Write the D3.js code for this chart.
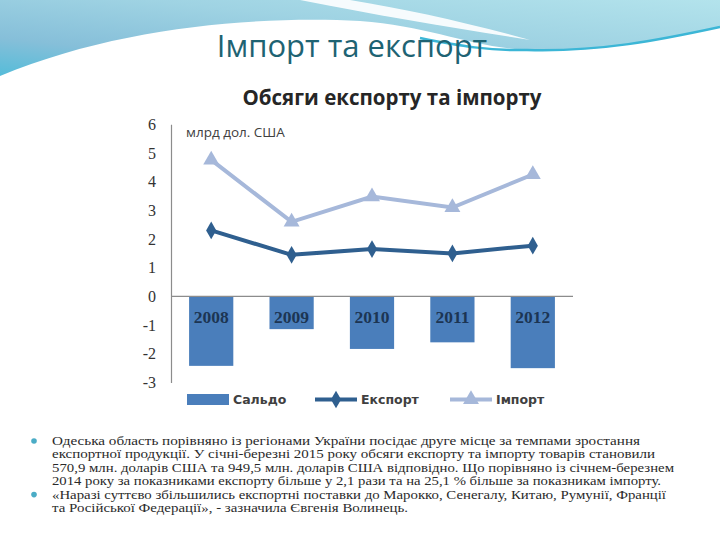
<!DOCTYPE html>
<html><head><meta charset="utf-8">
<script src="https://cdn.jsdelivr.net/npm/d3@7"></script>
<style>html,body{margin:0;padding:0;background:#fff;}svg{display:block;}</style>
</head><body>
<script>
const years = ["2008","2009","2010","2011","2012"];
const saldo = [-2.42, -1.14, -1.83, -1.6, -2.5];
const exportVals = [2.3, 1.45, 1.65, 1.5, 1.77];
const importVals = [4.76, 2.6, 3.48, 3.1, 4.25];
const yTicks = [-3,-2,-1,0,1,2,3,4,5,6];
const legendLabels = ["Сальдо","Експорт","Імпорт"];
const slideTitle = "Імпорт та експорт";
const chartTitle = "Обсяги експорту та імпорту";
const unitLabel = "млрд дол. США";
const bullets = [
 ["Одеська область порівняно із регіонами України посідає друге місце за темпами зростання",
  "експортної продукції. У січні-березні 2015 року обсяги експорту та імпорту товарів становили",
  "570,9 млн. доларів США та 949,5 млн. доларів США відповідно. Що порівняно із січнем-березнем",
  "2014 року за показниками експорту більше у 2,1 рази та на 25,1 % більше за показникам імпорту."],
 ["«Наразі суттєво збільшились експортні поставки до Марокко, Сенегалу, Китаю, Румунії, Франції",
  "та Російської Федерації», - зазначила Євгенія Волинець."]
];
const lineWidths = [[588,603,622,609],[614,356]];

const W=720,H=540;
const svg=d3.select("body").append("svg").attr("width",W).attr("height",H);
const defs=svg.append("defs");
const g1=defs.append("linearGradient").attr("id","band").attr("x1","0").attr("y1","1").attr("x2","1").attr("y2","0");
g1.append("stop").attr("offset","0").attr("stop-color","#55bcd9");
g1.append("stop").attr("offset","0.25").attr("stop-color","#86bfd9");
g1.append("stop").attr("offset","0.6").attr("stop-color","#9fd3e3");
g1.append("stop").attr("offset","1").attr("stop-color","#b3e3ec");

// top decorative band
svg.append("path").attr("d","M0,0 L720,0 L720,27 C660,40 600,53 527,50 C470,47 430,26 360,21 C260,16 120,26 0,76 Z").attr("fill","url(#band)");
svg.append("path").attr("d","M420,38 C460,46 490,51 527,50 C600,52 660,40 720,27").attr("fill","none").attr("stroke","#3cb6d6").attr("stroke-width",2.5);
svg.append("path").attr("d","M300,0 L350,0 C405,9 465,22 530,40 C455,28 380,16 300,0 Z").attr("fill","#ffffff").attr("opacity",0.9);

// slide title
svg.append("text").attr("x",352).attr("y",57).attr("text-anchor","middle")
 .attr("font-family","Open Sans").attr("font-size",31).attr("fill","#1e6373").text(slideTitle);

// chart title
svg.append("text").attr("x",392).attr("y",105).attr("text-anchor","middle")
 .attr("font-family","Open Sans").attr("font-weight","bold").attr("font-size",20.5).attr("fill","#262626").text(chartTitle);

const x=d3.scaleBand().domain(years).range([171,573]).paddingInner(0.45).paddingOuter(0.225);
const y=d3.scaleLinear().domain([-3,6]).range([382.5,124.3]);

// y axis
const yAxis=d3.axisLeft(y).tickValues(yTicks).tickSize(0).tickPadding(15).tickFormat(d=>d<0?"-"+Math.abs(d):String(d));
const ga=svg.append("g").attr("transform","translate(171,0)").call(yAxis);
ga.select(".domain").attr("stroke","#8c8c8c").attr("stroke-width",1.2);
ga.selectAll("text").attr("font-family","Liberation Serif").attr("font-size",16).attr("fill","#333");

// bars
svg.append("g").selectAll("rect").data(years).join("rect")
 .attr("x",d=>x(d)).attr("width",x.bandwidth())
 .attr("y",(d,i)=>y(Math.max(0,saldo[i]))).attr("height",(d,i)=>Math.abs(y(saldo[i])-y(0)))
 .attr("fill","#4a7ebb");

// zero line
svg.append("line").attr("x1",171).attr("x2",573).attr("y1",y(0)).attr("y2",y(0)).attr("stroke","#8c8c8c").attr("stroke-width",1.2);

// category labels inside bars
svg.append("g").selectAll("text").data(years).join("text")
 .attr("x",d=>x(d)+x.bandwidth()/2).attr("y",y(0)+27).attr("text-anchor","middle")
 .attr("font-family","Liberation Serif").attr("font-weight","bold").attr("font-size",17.5).attr("fill","#1c3553").text(d=>d);

// unit label
svg.append("text").attr("x",186).attr("y",137).attr("font-family","Open Sans").attr("font-size",13.5).attr("fill","#404040").text(unitLabel);

const cx=d=>x(d)+x.bandwidth()/2;
const line=d3.line().x(d=>cx(d[0])).y(d=>y(d[1]));
const impC="#a6b8da", expC="#2f5f8f";
svg.append("path").datum(years.map((d,i)=>[d,importVals[i]])).attr("d",line).attr("fill","none").attr("stroke",impC).attr("stroke-width",4);
svg.append("path").datum(years.map((d,i)=>[d,exportVals[i]])).attr("d",line).attr("fill","none").attr("stroke",expC).attr("stroke-width",4);
const tri=d3.symbol().type(d3.symbolTriangle).size(110);
const dia=d3.symbol().type(d3.symbolDiamond).size(90);
svg.append("g").selectAll("path").data(years).join("path")
 .attr("transform",(d,i)=>`translate(${cx(d)},${y(importVals[i])})`).attr("d",tri).attr("fill",impC);
svg.append("g").selectAll("path").data(years).join("path")
 .attr("transform",(d,i)=>`translate(${cx(d)},${y(exportVals[i])})`).attr("d",dia).attr("fill",expC);

// legend
const lg=svg.append("g").attr("font-family","DejaVu Sans").attr("font-weight","bold").attr("font-size",12.5).attr("fill","#404040");
lg.append("rect").attr("x",187).attr("y",394).attr("width",42).attr("height",11).attr("fill","#4a7ebb");
lg.append("text").attr("x",233).attr("y",404).text(legendLabels[0]);
lg.append("line").attr("x1",315).attr("x2",357).attr("y1",399.5).attr("y2",399.5).attr("stroke",expC).attr("stroke-width",4);
lg.append("path").attr("transform","translate(336,399.5)").attr("d",dia).attr("fill",expC);
lg.append("text").attr("x",361).attr("y",404).text(legendLabels[1]);
lg.append("line").attr("x1",450).attr("x2",492).attr("y1",399.5).attr("y2",399.5).attr("stroke",impC).attr("stroke-width",4);
lg.append("path").attr("transform","translate(471,399.5)").attr("d",tri).attr("fill",impC);
lg.append("text").attr("x",496).attr("y",404).text(legendLabels[2]);

// bullet text
const tg=svg.append("g").attr("font-family","Liberation Serif").attr("font-size",12).attr("fill","#2a2a2a");
let ly=445;
bullets.forEach((lines,bi)=>{
  svg.append("circle").attr("cx",34).attr("cy",ly-4).attr("r",2.8).attr("fill","#4bacc6");
  lines.forEach((t,li)=>{
    const tt=tg.append("text").attr("x",52).attr("y",ly).text(t);
    const w=lineWidths[bi][li];
    if(w) tt.attr("textLength",w).attr("lengthAdjust","spacingAndGlyphs");
    ly+=13.4;
  });
});
</script>
</body></html>
